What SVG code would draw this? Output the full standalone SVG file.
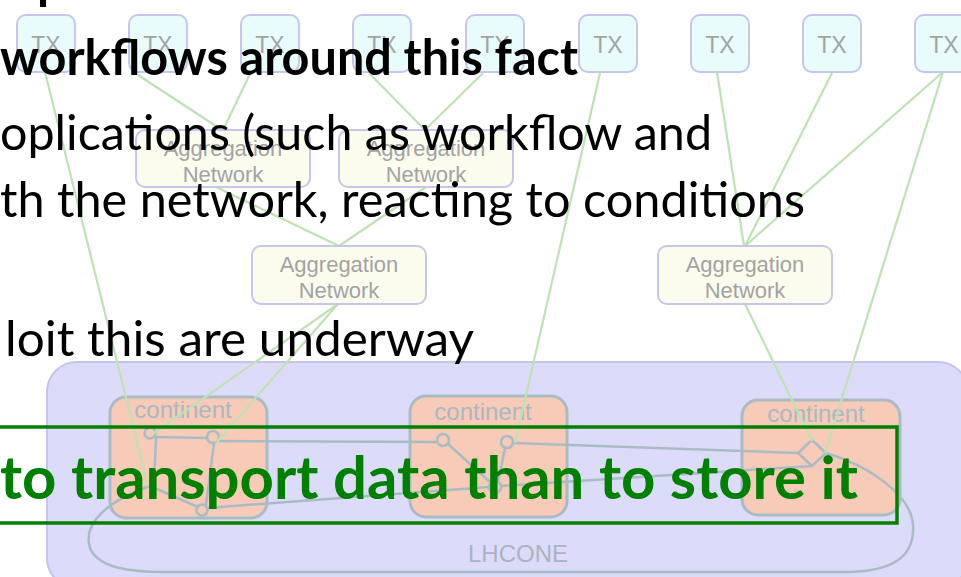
<svg xmlns="http://www.w3.org/2000/svg" width="961" height="577" viewBox="0 0 961 577">
  <style>
    .tx rect { fill: #e9fcfc; stroke: #c6c6ea; stroke-width: 2; }
    .tx text { font-family: "Liberation Sans", Arial, sans-serif; font-size: 23px; fill: #a3a3a3; text-anchor: middle; }
    .agg rect { fill: #fcfcee; stroke: #c6c6ea; stroke-width: 2; }
    .agg text { font-family: "Liberation Sans", Arial, sans-serif; font-size: 22px; fill: #a3a3a3; text-anchor: middle; }
    .cont rect { fill: #f8cab8; stroke: #a9bcc4; stroke-width: 3; }
    .cont text { font-family: "Liberation Sans", Arial, sans-serif; font-size: 24px; fill: #a9b8c0; text-anchor: middle; }
    .port { fill: none; stroke: #a9bcc4; stroke-width: 2.5; }
    .wire { fill: none; stroke: #a9bcc4; stroke-width: 2.5; }
    .link { fill: none; stroke: #bde3b3; stroke-width: 2.2; }
    .body { font-family: Lato, "Open Sans", sans-serif; font-size: 49px; fill: #000000; }
    .bold { font-weight: bold; }
    .hl { font-family: Lato, "Open Sans", sans-serif; font-size: 59px; font-weight: bold; fill: #008000; }
  </style>

  <rect x="0" y="0" width="961" height="577" fill="#ffffff"/>

  <!-- LHCONE region -->
  <g id="lhcone">
    <rect x="47" y="362" width="921" height="226" rx="30" fill="#dcdcfa" stroke="#c4c4ec" stroke-width="2"/>
    <text x="518" y="562" font-family="Liberation Sans, Arial, sans-serif" font-size="24" fill="#a9b4c0" text-anchor="middle">LHCONE</text>
  </g>

  <!-- continents -->
  <g id="continent-1" class="cont">
    <rect x="110" y="397" width="157" height="121" rx="16"/>
    <text x="183" y="418">continent</text>
  </g>
  <g id="continent-2" class="cont">
    <rect x="410" y="396" width="157" height="121" rx="16"/>
    <text x="483" y="420">continent</text>
  </g>
  <g id="continent-3" class="cont">
    <rect x="742" y="400" width="158" height="115" rx="16"/>
    <text x="816" y="422">continent</text>
  </g>

  <!-- connectors -->
  <g id="connectors">
    <!-- backbone wiring -->
    <path class="wire" d="M155,437 L208,438"/>
    <path class="wire" d="M156,438 L154,486"/>
    <path class="wire" d="M214,443 L206,505"/>
    <path class="wire" d="M150,486 L198,507"/>
    <path class="wire" d="M219,441 L437,442"/>
    <path class="wire" d="M207,508 L489,487"/>
    <path class="wire" d="M448,444 L490,482"/>
    <path class="wire" d="M505,448 L498,482"/>
    <path class="wire" d="M513,443 L798,453"/>
    <path class="wire" d="M501,486 L812,466"/>
    <path class="wire" d="M150,486 C110,500 82,522 90,548 C98,568 130,572 165,572 L845,572 C895,572 915,555 913,525 C911,495 870,466 826,453"/>
    <!-- ports -->
    <circle class="port" cx="150" cy="433" r="5.5"/>
    <circle class="port" cx="213" cy="437" r="6"/>
    <circle class="port" cx="202" cy="510" r="5.5"/>
    <circle class="port" cx="443" cy="440" r="6"/>
    <circle class="port" cx="507" cy="442" r="6"/>
    <circle class="port" cx="495" cy="487" r="6"/>
    <path class="port" d="M798,453 L812,440 L826,453 L812,466 Z"/>

    <!-- access links -->
    <path class="link" d="M45,72 L148,486"/>
    <path class="link" d="M138,75 L222,130"/>
    <path class="link" d="M250,74 L223,130"/>
    <path class="link" d="M370,74 L425,130"/>
    <path class="link" d="M483,73 L425,130"/>
    <path class="link" d="M216,187 L339,246"/>
    <path class="link" d="M426,187 L339,246"/>
    <path class="link" d="M338,304 L154,433"/>
    <path class="link" d="M338,304 L216,443"/>
    <path class="link" d="M600,73 L515,443"/>
    <path class="link" d="M717,72 L744,246"/>
    <path class="link" d="M832,73 L745,246"/>
    <path class="link" d="M943,72 L745,246"/>
    <path class="link" d="M943,72 L825,453"/>
    <path class="link" d="M745,304 L812,441"/>
  </g>

  <!-- TX endpoints -->
  <g id="tx-1" class="tx"><rect x="17" y="15" width="58" height="57" rx="9"/><text x="46" y="53">TX</text></g>
  <g id="tx-2" class="tx"><rect x="129" y="15" width="58" height="57" rx="9"/><text x="158" y="53">TX</text></g>
  <g id="tx-3" class="tx"><rect x="241" y="15" width="58" height="57" rx="9"/><text x="270" y="53">TX</text></g>
  <g id="tx-4" class="tx"><rect x="353" y="15" width="58" height="57" rx="9"/><text x="382" y="53">TX</text></g>
  <g id="tx-5" class="tx"><rect x="466" y="15" width="58" height="57" rx="9"/><text x="495" y="53">TX</text></g>
  <g id="tx-6" class="tx"><rect x="579" y="15" width="58" height="57" rx="9"/><text x="608" y="53">TX</text></g>
  <g id="tx-7" class="tx"><rect x="691" y="15" width="58" height="57" rx="9"/><text x="720" y="53">TX</text></g>
  <g id="tx-8" class="tx"><rect x="803" y="15" width="58" height="57" rx="9"/><text x="832" y="53">TX</text></g>
  <g id="tx-9" class="tx"><rect x="915" y="15" width="58" height="57" rx="9"/><text x="944" y="53">TX</text></g>

  <!-- aggregation networks -->
  <g id="agg-1" class="agg"><rect x="136" y="130" width="174" height="57" rx="9"/><text x="223" y="156">Aggregation</text><text x="223" y="182">Network</text></g>
  <g id="agg-2" class="agg"><rect x="339" y="130" width="174" height="57" rx="9"/><text x="426" y="156">Aggregation</text><text x="426" y="182">Network</text></g>
  <g id="agg-3" class="agg"><rect x="252" y="246" width="174" height="58" rx="9"/><text x="339" y="272">Aggregation</text><text x="339" y="298">Network</text></g>
  <g id="agg-4" class="agg"><rect x="658" y="246" width="174" height="58" rx="9"/><text x="745" y="272">Aggregation</text><text x="745" y="298">Network</text></g>

  <!-- slide text -->
  <g id="slide-text">
    <text class="body bold" x="37" y="-1">p</text>
    <text class="body bold" x="0" y="75" textLength="578" lengthAdjust="spacingAndGlyphs">workflows around this fact</text>
    <text class="body" x="0" y="150" textLength="712" lengthAdjust="spacingAndGlyphs">oplications (such as workflow and</text>
    <text class="body" x="0" y="217" textLength="805" lengthAdjust="spacingAndGlyphs">th the network, reacting to conditions</text>
    <text class="body" x="5" y="356" textLength="469" lengthAdjust="spacingAndGlyphs">loit this are underway</text>
  </g>

  <!-- highlighted statement -->
  <g id="statement">
    <rect x="-10" y="427" width="907" height="96" fill="none" stroke="#008000" stroke-width="3.5"/>
    <text class="hl" x="0" y="499" textLength="858" lengthAdjust="spacingAndGlyphs">to transport data than to store it</text>
  </g>
</svg>
